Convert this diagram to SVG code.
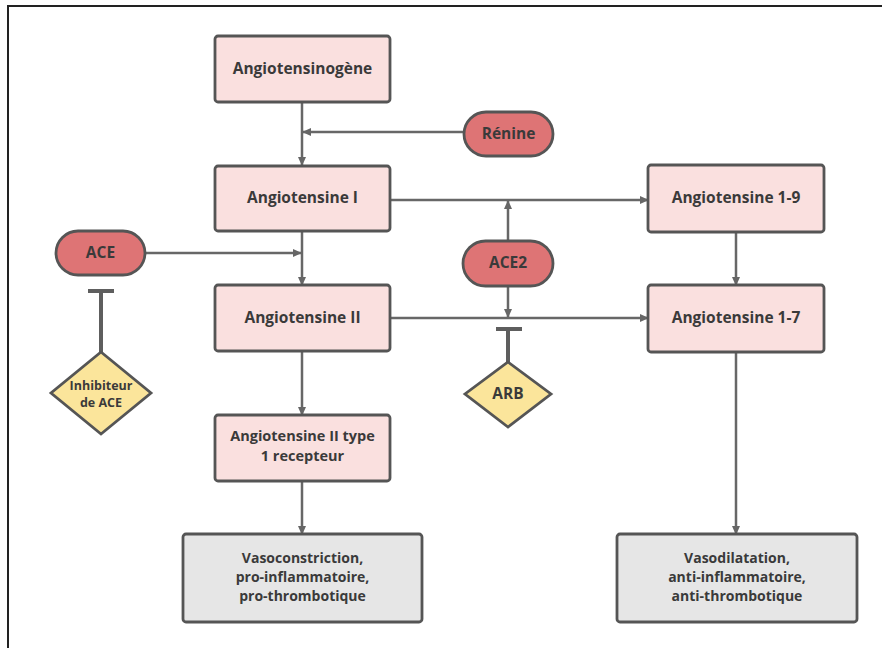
<svg xmlns="http://www.w3.org/2000/svg" width="882" height="648" viewBox="0 0 882 648">
<defs>
<marker id="arr" viewBox="0 0 10 10" refX="9" refY="5" markerWidth="9" markerHeight="9" markerUnits="userSpaceOnUse" orient="auto">
<path d="M0,0.5 L10,5 L0,9.5 z" fill="#666"/>
</marker>
</defs>
<style>
.box{fill:#fae0df;stroke:#555;stroke-width:2.8}
.grey{fill:#e6e6e6;stroke:#555;stroke-width:2.8}
.pill{fill:#de7475;stroke:#555;stroke-width:2.8}
.dia{fill:#fbe59b;stroke:#555;stroke-width:2.8}
.ln{stroke:#676767;stroke-width:2.5;fill:none}
.inh{stroke:#5e5e5e;stroke-width:4;fill:none}
text{font-family:"Open Sans","Liberation Sans",Arial,sans-serif;font-weight:bold;font-size:15.5px;fill:#3a3a3a;text-anchor:middle}
.s{font-size:14px}
.m{font-size:14.5px}
</style>
<rect x="0" y="0" width="882" height="648" fill="#fff"/>
<path d="M8,648 V6 H882" fill="none" stroke="#222" stroke-width="2"/>
<g id="connectors">
<path class="ln" d="M302,102 V165" marker-end="url(#arr)"/>
<path class="ln" d="M464,132 H303" marker-end="url(#arr)"/>
<path class="ln" d="M390,200 H648" marker-end="url(#arr)"/>
<path class="ln" d="M302,231 V285" marker-end="url(#arr)"/>
<path class="ln" d="M145,253 H301" marker-end="url(#arr)"/>
<path class="ln" d="M508,241 V201" marker-end="url(#arr)"/>
<path class="ln" d="M508,286 V317" marker-end="url(#arr)"/>
<path class="ln" d="M390,318 H648" marker-end="url(#arr)"/>
<path class="ln" d="M736,232 V285" marker-end="url(#arr)"/>
<path class="ln" d="M302,351 V415" marker-end="url(#arr)"/>
<path class="ln" d="M302,481 V534" marker-end="url(#arr)"/>
<path class="ln" d="M736,352 V534" marker-end="url(#arr)"/>
<path class="inh" d="M101,352 V291 M88,291 H114"/>
<path class="inh" d="M508,362 V329 M496,329 H522"/>
</g>
<g id="angiotensinogene">
<rect class="box" x="215" y="36" width="175" height="66" rx="3"/>
<text x="302.5" y="74">Angiotensinogène</text>
</g>
<g id="renine">
<rect class="pill" x="464" y="112" width="89" height="44" rx="22"/>
<text x="508.5" y="139">Rénine</text>
</g>
<g id="angiotensine-i">
<rect class="box" x="215" y="166" width="175" height="65" rx="3"/>
<text x="302.5" y="203">Angiotensine I</text>
</g>
<g id="ace">
<rect class="pill" x="56" y="231" width="89" height="44" rx="22"/>
<text x="100.5" y="258">ACE</text>
</g>
<g id="angiotensine-ii">
<rect class="box" x="215" y="285" width="175" height="66" rx="3"/>
<text x="302.5" y="323">Angiotensine II</text>
</g>
<g id="inhibiteur-ace">
<polygon class="dia" points="101,352 151,393 101,434 51,393"/>
<text x="101" y="390" style="font-size:12.5px">Inhibiteur</text>
<text x="101" y="407" style="font-size:12.5px">de ACE</text>
</g>
<g id="at1r">
<rect class="box" x="215" y="415" width="175" height="66" rx="3"/>
<text class="m" x="302.5" y="441">Angiotensine II type</text>
<text class="m" x="302.5" y="461">1 recepteur</text>
</g>
<g id="vasoconstriction">
<rect class="grey" x="183" y="534" width="239" height="88" rx="3"/>
<text class="s" x="302.5" y="563">Vasoconstriction,</text>
<text class="s" x="302.5" y="582">pro-inflammatoire,</text>
<text class="s" x="302.5" y="601">pro-thrombotique</text>
</g>
<g id="ace2">
<rect class="pill" x="463" y="241" width="90" height="45" rx="22.5"/>
<text x="508" y="268">ACE2</text>
</g>
<g id="arb">
<polygon class="dia" points="508,362 551,394 508,427 465,394"/>
<text x="508" y="399">ARB</text>
</g>
<g id="angiotensine-1-9">
<rect class="box" x="648" y="165" width="176" height="67" rx="3"/>
<text x="736" y="203">Angiotensine 1-9</text>
</g>
<g id="angiotensine-1-7">
<rect class="box" x="648" y="285" width="176" height="67" rx="3"/>
<text x="736" y="323">Angiotensine 1-7</text>
</g>
<g id="vasodilatation">
<rect class="grey" x="617" y="534" width="240" height="88" rx="3"/>
<text class="s" x="737" y="563">Vasodilatation,</text>
<text class="s" x="737" y="582">anti-inflammatoire,</text>
<text class="s" x="737" y="601">anti-thrombotique</text>
</g>
</svg>
